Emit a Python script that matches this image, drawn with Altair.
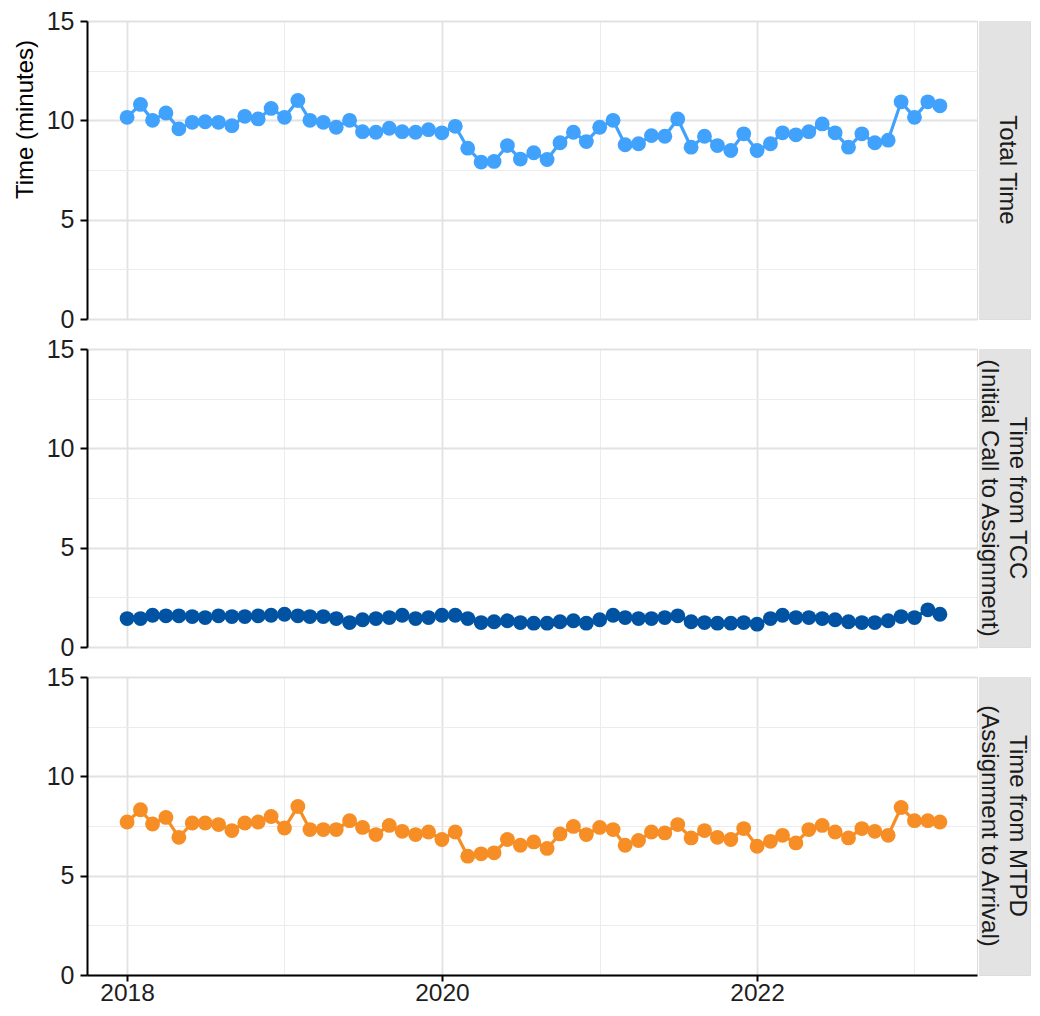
import altair as alt
import pandas as pd

months = pd.date_range("2018-01-01", "2023-03-01", freq="MS").strftime("%Y-%m-%d").tolist()

total_time = [10.15, 10.8, 10.0, 10.37, 9.57, 9.9, 9.93, 9.9, 9.73, 10.2, 10.07, 10.6,
              10.15, 11.0, 10.0, 9.9, 9.65, 10.0, 9.43, 9.4, 9.6, 9.43, 9.4, 9.53,
              9.37, 9.7, 8.6, 7.9, 7.93, 8.73, 8.05, 8.37, 8.03, 8.87, 9.4, 8.93,
              9.65, 10.0, 8.77, 8.82, 9.23, 9.2, 10.07, 8.65, 9.2, 8.73, 8.48, 9.32,
              8.48, 8.82, 9.37, 9.27, 9.43, 9.82, 9.37, 8.65, 9.32, 8.87, 9.0, 10.93,
              10.15, 10.93, 10.73]
tcc_time = [1.43, 1.43, 1.6, 1.57, 1.57, 1.53, 1.48, 1.57, 1.53, 1.53, 1.57, 1.6,
            1.65, 1.57, 1.53, 1.53, 1.43, 1.23, 1.37, 1.43, 1.48, 1.6, 1.43, 1.48,
            1.6, 1.6, 1.43, 1.23, 1.27, 1.32, 1.23, 1.2, 1.2, 1.27, 1.32, 1.2,
            1.37, 1.6, 1.48, 1.43, 1.43, 1.48, 1.57, 1.27, 1.23, 1.2, 1.2, 1.23,
            1.15, 1.43, 1.6, 1.48, 1.48, 1.43, 1.37, 1.27, 1.23, 1.23, 1.32, 1.53,
            1.48, 1.87, 1.65]
mtpd_time = [7.7, 8.32, 7.6, 7.93, 6.93, 7.65, 7.65, 7.57, 7.27, 7.65, 7.7, 7.98,
             7.4, 8.48, 7.32, 7.32, 7.32, 7.77, 7.43, 7.07, 7.53, 7.23, 7.07, 7.2,
             6.82, 7.2, 5.98, 6.1, 6.15, 6.82, 6.53, 6.7, 6.37, 7.1, 7.48, 7.07,
             7.43, 7.32, 6.53, 6.77, 7.2, 7.15, 7.57, 6.9, 7.27, 6.93, 6.82, 7.37,
             6.48, 6.73, 7.03, 6.65, 7.32, 7.53, 7.2, 6.9, 7.37, 7.23, 7.03, 8.43,
             7.77, 7.77, 7.7]

panel_names = ["Total Time",
               "Time from TCC\n(Initial Call to Assignment)",
               "Time from MTPD\n(Assignment to Arrival)"]
panel_colors = ["#40a2fd", "#0053a2", "#f68e25"]
series = [total_time, tcc_time, mtpd_time]

y_ticks = [0, 2.5, 5, 7.5, 10, 12.5, 15]
x_years = [2018, 2019, 2020, 2021, 2022, 2023]

FONT = "Liberation Sans"
W, H, STRIP_W = 890, 298, 51
TICK_FS = 25
X_TICK_FS = 24.5

x_scale = alt.Scale(type="utc",
                    domain=[alt.DateTime(year=2017, month=9, date=30, utc=True),
                            alt.DateTime(year=2023, month=5, date=26, utc=True)])
x_values = [alt.DateTime(year=y, month=1, date=1, utc=True) for y in x_years]
x_major = "utcyear(datum.value) % 2 == 0"
y_major = "datum.value % 5 == 0"


def x_axis(bottom):
    common = dict(
        title=None, values=x_values, grid=True,
        gridColor={"condition": {"test": x_major, "value": "#e2e2e2"}, "value": "#ececec"},
        gridWidth={"condition": {"test": x_major, "value": 1.8}, "value": 1.0},
    )
    if bottom:
        return alt.Axis(
            **common,
            labelExpr=f"{x_major} ? '' + utcyear(datum.value) : ''",
            tickOpacity={"condition": {"test": x_major, "value": 1}, "value": 0},
            domain=True, domainColor="#000000", domainWidth=2,
            ticks=True, tickColor="#000000", tickWidth=2, tickSize=6,
            labelPadding=0, labelFont=FONT, labelFontSize=X_TICK_FS, labelColor="#1e1e1e",
        )
    return alt.Axis(**common, labels=False, ticks=False, domain=False)


def y_axis(show_title):
    kw = dict(
        values=y_ticks, grid=True,
        gridColor={"condition": {"test": y_major, "value": "#e2e2e2"}, "value": "#ececec"},
        gridWidth={"condition": {"test": y_major, "value": 1.8}, "value": 1.0},
        labelExpr=f"{y_major} ? datum.label : ''",
        tickOpacity={"condition": {"test": y_major, "value": 1}, "value": 0},
        domain=True, domainColor="#000000", domainWidth=2,
        ticks=True, tickColor="#000000", tickWidth=2, tickSize=7,
        labelPadding=6, labelFont=FONT, labelFontSize=TICK_FS, labelColor="#1e1e1e",
    )
    if show_title:
        return alt.Axis(title="Time (minutes)", titleFont=FONT, titleFontSize=24,
                        titleFontWeight="normal", titleColor="#000000",
                        titleY=98, titleX=-55, titleBaseline="alphabetic", **kw)
    return alt.Axis(title=None, **kw)


cells = []
for i, (name, color, vals) in enumerate(zip(panel_names, panel_colors, series)):
    df = pd.DataFrame({"date": months, "value": vals})
    base = alt.Chart(df).encode(
        x=alt.X("date:T", scale=x_scale, axis=x_axis(i == 2)),
        y=alt.Y("value:Q", scale=alt.Scale(domain=[0, 15], nice=False), axis=y_axis(i == 0)),
    )
    line = base.mark_line(color=color, strokeWidth=3.2)
    pts = base.mark_circle(color=color, size=220, opacity=1)
    plot = alt.layer(line, pts).properties(width=W, height=H)

    n_lines = name.count("\n") + 1
    sdf = pd.DataFrame({"label": [name]})
    rect = alt.Chart(sdf).mark_rect(color="#e3e3e3").encode(
        x=alt.value(0), x2=alt.value(STRIP_W), y=alt.value(0), y2=alt.value(H))
    txt = alt.Chart(sdf).mark_text(angle=90, font=FONT, fontSize=24, lineBreak="\n",
                                   lineHeight=28, color="#1a1a1a",
                                   align="center", baseline="middle").encode(
        text="label:N", x=alt.value(28 + 10 * (n_lines - 1)), y=alt.value(H / 2))
    strip = alt.layer(rect, txt).properties(width=STRIP_W, height=H)
    cells += [plot, strip]

chart = alt.concat(*cells, columns=2, spacing={"row": 30, "column": 2}, bounds="flush").properties(
    padding={"left": 4, "top": 0, "right": 0, "bottom": -1}
).configure_view(stroke=None).configure(font=FONT, background="#ffffff")

chart.save("out.html", embed_options={"renderer": "svg", "actions": False})
